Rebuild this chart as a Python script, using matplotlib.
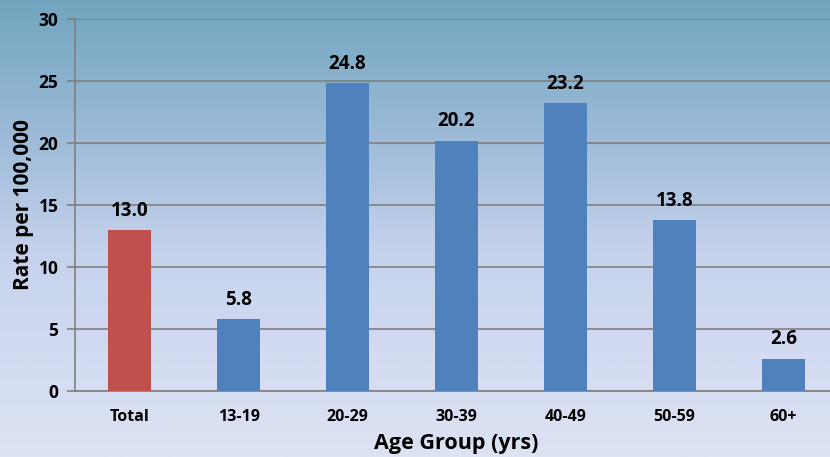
import numpy as np
import matplotlib
matplotlib.use("Agg")
import matplotlib.pyplot as plt
from matplotlib.colors import LinearSegmentedColormap

categories = ["Total", "13-19", "20-29", "30-39", "40-49", "50-59", "60+"]
values = [13.0, 5.8, 24.8, 20.2, 23.2, 13.8, 2.6]
value_labels = ["13.0", "5.8", "24.8", "20.2", "23.2", "13.8", "2.6"]
bar_colors = ["#C0504D", "#4F81BD", "#4F81BD", "#4F81BD", "#4F81BD", "#4F81BD", "#4F81BD"]
yticks = [0, 5, 10, 15, 20, 25, 30]

plt.rcParams['font.family'] = ['Open Sans', 'DejaVu Sans']
plt.rcParams['font.weight'] = 'bold'

W, H = 830, 457
fig = plt.figure(figsize=(W/100, H/100), dpi=100)

# gradient background
bg = fig.add_axes([0, 0, 1, 1], zorder=-10)
cmap = LinearSegmentedColormap.from_list("bg", [
    (0.0, "#71A5BF"), (0.30, "#9DBBD8"), (0.55, "#C5D2EC"), (0.75, "#D2DAF2"), (1.0, "#DCE3F2")])
grad = np.linspace(0, 1, 256).reshape(-1, 1)
bg.imshow(grad, aspect='auto', cmap=cmap, extent=[0, 1, 0, 1], origin='upper')
bg.set_axis_off()

left = 75 / W
right = 838 / W
top = 1 - 19 / H
bottom = 1 - 391 / H
ax = fig.add_axes([left, bottom, right - left, top - bottom])
ax.patch.set_alpha(0)

x = np.arange(len(categories))
ax.bar(x, values, width=0.4, color=bar_colors, zorder=3)
for xi, v, lab in zip(x, values, value_labels):
    ax.text(xi, v + 0.75, lab, ha='center', va='bottom', fontsize=13.5, fontweight='bold', color='black')

ax.set_xlim(-0.5, 6.5)
ax.set_ylim(0, 30)
ax.set_yticks(yticks)
ax.set_xticks(x)
ax.set_xticklabels(categories, fontsize=11.5, fontweight='bold')
ax.tick_params(axis='y', labelsize=12.5, length=6, color='#808080', width=1.2, pad=6)
ax.tick_params(axis='x', length=0, pad=13)
for t in ax.get_yticklabels():
    t.set_fontweight('bold')

ax.yaxis.grid(True, color='#808080', linewidth=1.2, zorder=0)
ax.set_axisbelow(True)
for s in ['top', 'right']:
    ax.spines[s].set_visible(False)
ax.spines['left'].set_color('#808080')
ax.spines['left'].set_linewidth(1.2)
ax.spines['bottom'].set_color('#808080')
ax.spines['bottom'].set_linewidth(1.2)

ax.set_ylabel("Rate per 100,000", fontsize=15, fontweight='bold', labelpad=3)
ax.set_xlabel("Age Group (yrs)", fontsize=15.5, fontweight='bold', labelpad=6)

fig.savefig("out.png", dpi=100)
